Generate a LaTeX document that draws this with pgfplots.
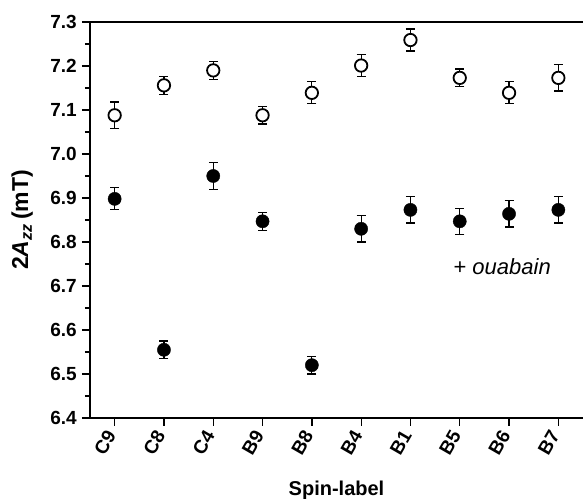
\documentclass[border=0pt]{standalone}
\usepackage{pgfplots}
\pgfplotsset{compat=1.18}
\usepackage{fontspec}
\setmainfont{Liberation Sans}

\begin{document}
\begin{tikzpicture}
\begin{axis}[
  scale only axis,
  width=493pt, height=396pt,
  xmin=-0.5, xmax=9.5,
  ymin=6.4, ymax=7.3,
  axis lines=left,
  axis line style={-, line width=1.6pt, black},
  tick align=outside,
  tick style={line width=1.3pt, black},
  major tick length=8pt,
  minor tick length=5pt,
  xtick={0,...,9},
  xticklabels={C9,C8,C4,B9,B8,B4,B1,B5,B6,B7},
  ytick={6.4,6.5,...,7.31},
  minor y tick num=1,
  /pgf/number format/assume math mode=true,
  /pgf/number format/fixed,
  /pgf/number format/fixed zerofill,
  /pgf/number format/precision=1,
  yticklabel style={font=\bfseries\fontsize{19}{21}\selectfont, inner sep=5pt},
  xticklabel style={font=\bfseries\fontsize{19}{21}\selectfont, rotate=60, anchor=east, inner sep=7pt},
  xlabel={Spin-label},
  ylabel={2\textit{A}\textsubscript{\textit{zz}}\,(mT)},
  xlabel style={font=\bfseries\fontsize{20}{22}\selectfont, at={(axis description cs:0.5,0)}, anchor=north, inner sep=0pt, yshift=-63pt},
  ylabel style={font=\bfseries\fontsize{23}{25}\selectfont, at={(axis description cs:0,0.5)}, anchor=south, inner sep=0pt, yshift=57pt},
  clip=false,
]
\coordinate (bl) at (rel axis cs:0,0);
\coordinate (tr) at (rel axis cs:1,1);
\draw[line width=1.6pt] (rel axis cs:0,1) -- (rel axis cs:1,1);

% without ouabain (open circles)
\addplot[only marks, mark=*, mark size=6.2pt,
  mark options={fill=white, draw=black, line width=1.8pt},
  error bars/.cd, y dir=both, y explicit,
  error bar style={line width=1.2pt, black},
  error mark options={rotate=90, mark size=4.5pt, line width=1.2pt, black}]
  table[x=x, y=y, y error=e] {
  x y e
  0 7.088 0.030
  1 7.156 0.020
  2 7.190 0.020
  3 7.088 0.020
  4 7.139 0.025
  5 7.201 0.025
  6 7.259 0.025
  7 7.173 0.020
  8 7.139 0.025
  9 7.173 0.030
};

% + ouabain (filled circles)
\addplot[only marks, mark=*, mark size=6.6pt,
  mark options={fill=black, draw=black},
  error bars/.cd, y dir=both, y explicit,
  error bar style={line width=1.2pt, black},
  error mark options={rotate=90, mark size=4.5pt, line width=1.2pt, black}]
  table[x=x, y=y, y error=e] {
  x y e
  0 6.898 0.025
  1 6.555 0.020
  2 6.950 0.030
  3 6.847 0.020
  4 6.520 0.020
  5 6.830 0.030
  6 6.873 0.030
  7 6.847 0.030
  8 6.864 0.030
  9 6.873 0.030
};

\node[font=\fontsize{22}{24}\selectfont] at (axis cs:7.86,6.743) {+ \textit{ouabain}};
\end{axis}
\pgfresetboundingbox
\path ([shift={(-90pt,-81pt)}]bl) rectangle ([shift={(0pt,22pt)}]tr);
\end{tikzpicture}
\end{document}
